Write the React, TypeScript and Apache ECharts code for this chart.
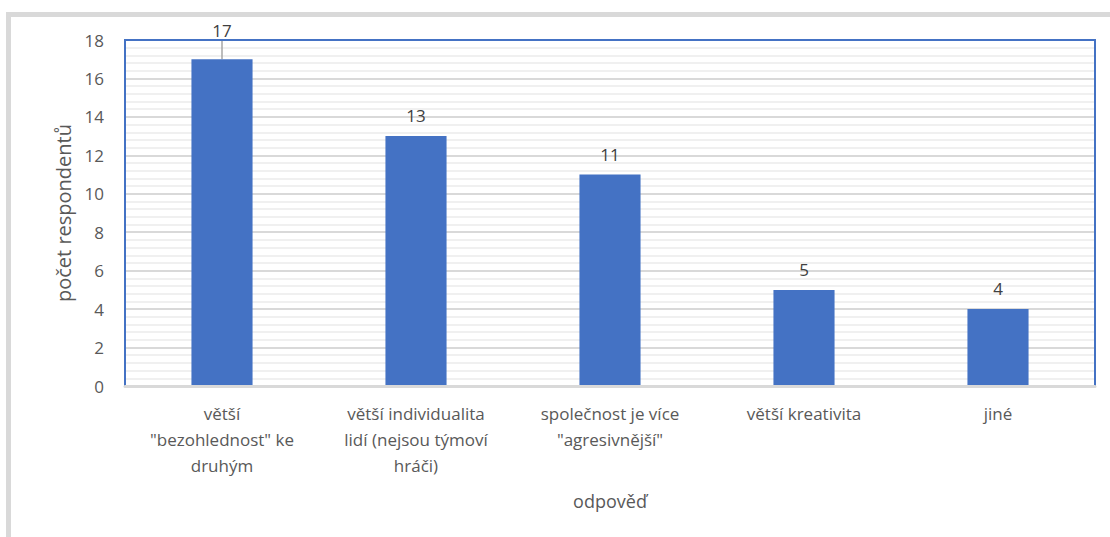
import React, { useEffect, useRef } from "react";
import * as echarts from "echarts";

const categories = [
  "větší\n\"bezohlednost\" ke\ndruhým",
  "větší individualita\nlidí (nejsou týmoví\nhráči)",
  "společnost je více\n\"agresivnější\"",
  "větší kreativita",
  "jiné",
];
const values = [17, 13, 11, 5, 4];
const yTitle = "počet respondentů";
const xTitle = "odpověď";

const FONT = "'Open Sans', 'Noto Sans', sans-serif";
const BLUE = "#4472c4";
const GRID = "#d9d9d9";

export default function App() {
  const ref = useRef<HTMLDivElement>(null);
  useEffect(() => {
    if (!ref.current) return;
    const chart = echarts.init(ref.current, null, { renderer: "svg" });
    chart.setOption({
      animation: false,
      backgroundColor: "#ffffff",
      textStyle: { fontFamily: FONT },
      graphic: [
        { type: "rect", shape: { x: 6, y: 12, width: 1104, height: 5 }, style: { fill: "#d9d9d9" }, silent: true },
        { type: "rect", shape: { x: 6, y: 12, width: 5, height: 525 }, style: { fill: "#d9d9d9" }, silent: true },
      ],
      grid: {
        left: 125,
        right: 15,
        top: 40,
        bottom: 151,
        show: true,
        z: 3,
        borderColor: BLUE,
        borderWidth: 2,
        backgroundColor: "transparent",
      },
      xAxis: {
        type: "category",
        data: categories,
        z: 6,
        zlevel: 1,
        axisLine: { show: true, onZero: false, lineStyle: { color: GRID, width: 3 } },
        axisTick: { show: false },
        axisLabel: {
          color: "#595959",
          fontSize: 17,
          lineHeight: 26,
          margin: 14,
          interval: 0,
          fontFamily: FONT,
        },
        splitLine: { show: false },
        name: xTitle,
        nameLocation: "middle",
        nameGap: 106,
        nameTextStyle: { color: "#595959", fontSize: 18, fontFamily: FONT },
      },
      yAxis: {
        type: "value",
        min: 0,
        max: 18,
        interval: 2,
        z: 0,
        axisLine: { show: false },
        axisTick: { show: false },
        axisLabel: { color: "#595959", fontSize: 17, margin: 21, fontFamily: FONT },
        splitLine: { show: true, lineStyle: { color: GRID, width: 2 } },
        minorTick: { show: false, splitNumber: 5 },
        minorSplitLine: { show: true, lineStyle: { color: "#f0f0f0", width: 2 } },
        name: yTitle,
        nameLocation: "middle",
        nameGap: 52,
        nameTextStyle: { color: "#595959", fontSize: 20, fontFamily: FONT },
      },
      series: [
        {
          type: "bar",
          z: 2,
          data: values.map((v, i) =>
            i === 0
              ? { value: v, labelLine: { show: true, lineStyle: { color: "#a6a6a6", width: 1.5 } } }
              : { value: v }
          ),
          barWidth: "31.5%",
          itemStyle: { color: BLUE },
          label: {
            show: true,
            position: "top",
            distance: 12,
            color: "#404040",
            fontSize: 17,
            fontFamily: FONT,
          },
          labelLine: { show: false },
          labelLayout: (params: any) => (params.dataIndex === 0 ? { dy: -8 } : {}),
        },
      ],
    });
    return () => chart.dispose();
  }, []);
  return (
    <div
      ref={ref}
      style={{ position: "fixed", left: 0, top: 0, width: 1110, height: 537 }}
    />
  );
}
